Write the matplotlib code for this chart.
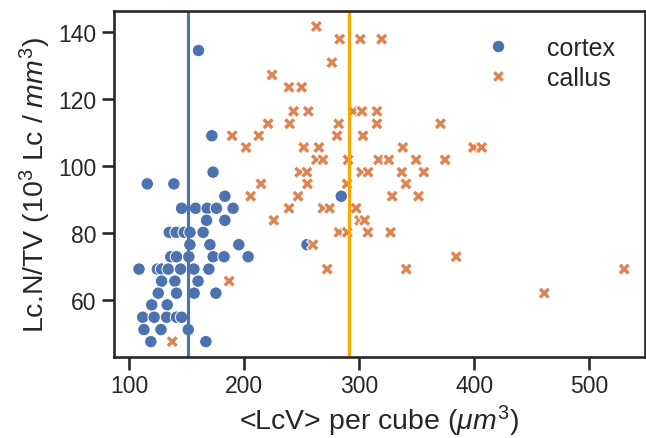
import numpy as np
import pandas as pd
import matplotlib
matplotlib.use("Agg")
import matplotlib.pyplot as plt
import seaborn as sns

# cortex : <LcV> per cube (um^3), Lc.N/TV (10^3 Lc / mm^3)
cortex_x = [160.4, 172, 173, 115.9, 139, 183.3, 284.4,
            145.7, 157.8, 167.9, 176, 190.4, 167.4, 183.3,
            135, 141, 148, 153, 164.4,
            152.9, 170.3, 195.4, 254.6,
            136.2, 141.3, 152, 173.1, 182.6, 203.5,
            108.7, 124.6, 128.3, 134.1, 144.8, 156.4, 169.4,
            128.3, 139.9, 160,
            125.4, 141.3, 156.6, 175.5,
            119.7, 133.2,
            111.9, 121.9, 132.7, 141.3, 145.7,
            113, 127.8, 151.5,
            119, 166.8]
cortex_y = [134.5, 109.0, 98.1, 94.6, 94.6, 90.9, 90.9,
            87.3, 87.3, 87.3, 87.3, 87.3, 83.7, 83.7,
            80.1, 80.1, 80.1, 80.1, 80.1,
            76.4, 76.4, 76.4, 76.4,
            72.8, 72.8, 72.8, 72.8, 72.8, 72.8,
            69.1, 69.1, 69.1, 69.1, 69.1, 69.1, 69.1,
            65.5, 65.5, 65.5,
            61.9, 61.9, 61.9, 61.9,
            58.4, 58.4,
            54.7, 54.7, 54.7, 54.7, 54.7,
            51.0, 51.0, 51.0,
            47.4, 47.4]

# callus
callus_x = [262.8,
            283, 301, 319.5,
            276.3,
            224.3,
            239, 250,
            243, 255.8, 294.6, 302.4, 315.4,
            220.8, 239.6, 282.2, 315.4, 370.6,
            189.6, 212.7, 280.7, 303.3,
            201.7, 251.8, 265, 337.9, 399.2, 406.4,
            262.8, 268.5, 290.3, 316.8, 325.8, 349.4, 374.6,
            248.3, 254.6, 302, 307.7, 337, 356.1,
            214.7, 255, 289.4, 340.6,
            205.7, 246.9, 328.6, 351.5,
            239, 268.5, 274.3, 297.3,
            225.8, 300.3, 304.7,
            282.4, 289.6, 307.5, 327.2,
            259.8,
            384.2,
            272.2, 340.8, 530.2,
            187,
            460.8,
            137.6]
callus_y = [141.7,
            137.9, 137.9, 137.9,
            130.9,
            127.2,
            123.5, 123.5,
            116.3, 116.3, 116.3, 116.3, 116.3,
            112.6, 112.6, 112.6, 112.6, 112.6,
            109.0, 109.0, 109.0, 109.0,
            105.5, 105.5, 105.5, 105.5, 105.5, 105.5,
            101.8, 101.8, 101.8, 101.8, 101.8, 101.8, 101.8,
            98.1, 98.1, 98.1, 98.1, 98.1, 98.1,
            94.6, 94.6, 94.6, 94.6,
            90.9, 90.9, 90.9, 90.9,
            87.3, 87.3, 87.3, 87.3,
            83.7, 83.7, 83.7,
            80.1, 80.1, 80.1, 80.1,
            76.4,
            72.8,
            69.1, 69.1, 69.1,
            65.5,
            61.9,
            47.4]

# mean <LcV> of each tissue
mean_cortex = 150.9
mean_callus = 290.8

df = pd.DataFrame({
    "LcV": cortex_x + callus_x,
    "LcN": cortex_y + callus_y,
    "tissue": ["cortex"] * len(cortex_x) + ["callus"] * len(callus_x),
})

sns.set_theme(context="talk", style="ticks")
plt.rcParams["font.family"] = ["Liberation Sans", "DejaVu Sans"]
plt.rcParams["mathtext.fontset"] = "custom"
plt.rcParams["mathtext.rm"] = "Liberation Sans"
plt.rcParams["mathtext.it"] = "Liberation Sans:italic"

fig = plt.figure(figsize=(6.46, 4.39), dpi=100)
ax = fig.add_axes([0.1765, 0.1845, 0.8215, 0.788])

sns.scatterplot(data=df, x="LcV", y="LcN", hue="tissue", style="tissue",
                hue_order=["cortex", "callus"], style_order=["cortex", "callus"],
                ax=ax)
ax.axvline(mean_cortex, color=sns.color_palette()[0])
ax.axvline(mean_callus, color="orange")

ax.set_xlim(87, 548)
ax.set_ylim(42.8, 146.3)
ax.set_xticks([100, 200, 300, 400, 500])
ax.set_yticks([60, 80, 100, 120, 140])
ax.set_xlabel(r"<LcV> per cube ($\mu m^3$)", fontsize=20.5)
ax.set_ylabel(r"Lc.N/TV ($10^3$ Lc / $mm^3$)", fontsize=20.5)
ax.legend(frameon=False, loc="upper right", bbox_to_anchor=(0.962, 0.958),
          borderaxespad=0, fontsize=18, labelspacing=0.24, handletextpad=0.96)

fig.savefig("out.png", dpi=100)
